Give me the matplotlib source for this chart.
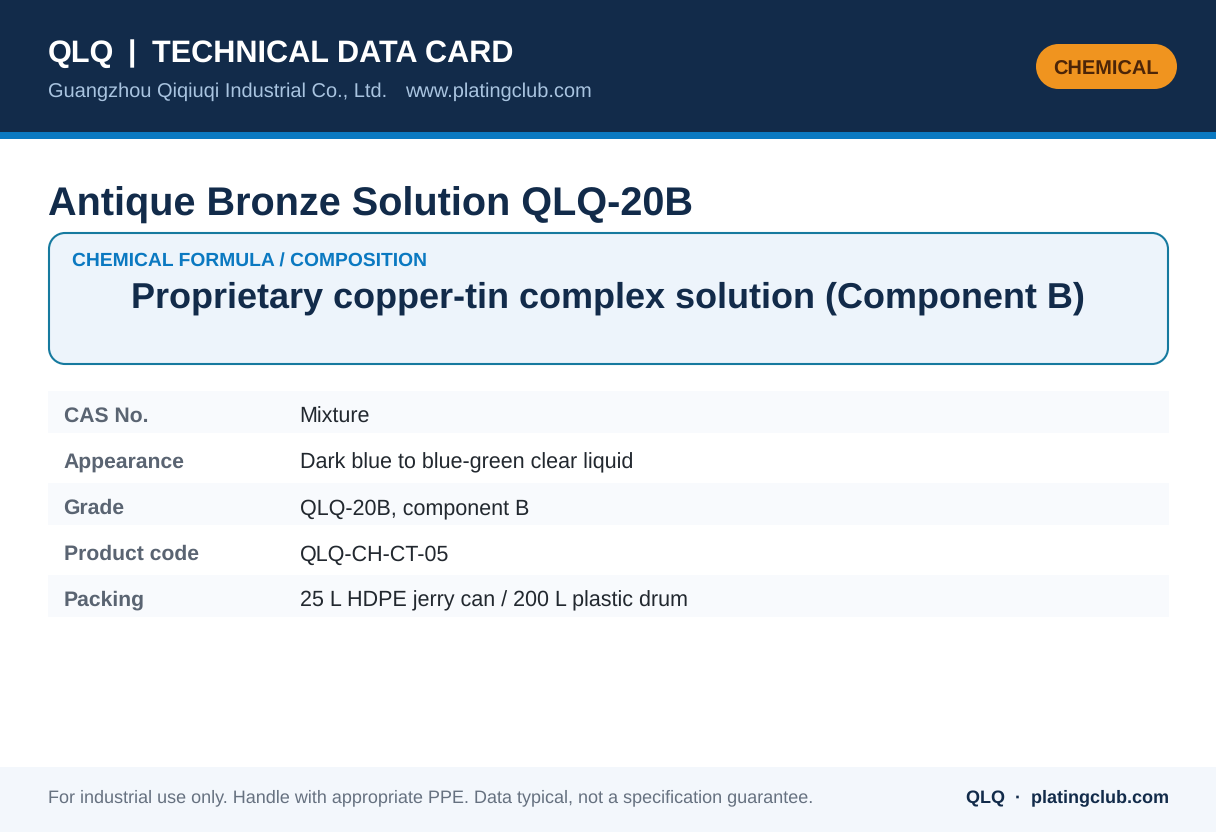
import matplotlib
matplotlib.use("Agg")
import matplotlib.pyplot as plt
from matplotlib.patches import Rectangle, PathPatch
from matplotlib.path import Path

header_brand = "QLQ"
header_sep = "|"
header_title = "TECHNICAL DATA CARD"
header_company = "Guangzhou Qiqiuqi Industrial Co., Ltd."
header_web = "www.platingclub.com"
badge = "CHEMICAL"
product = "Antique Bronze Solution QLQ-20B"
formula_label = "CHEMICAL FORMULA / COMPOSITION"
formula = "Proprietary copper-tin complex solution (Component B)"
row_labels = ["CAS No.", "Appearance", "Grade", "Product code", "Packing"]
row_values = ["Mixture", "Dark blue to blue-green clear liquid", "QLQ-20B, component B",
              "QLQ-CH-CT-05", "25 L HDPE jerry can / 200 L plastic drum"]
footer_left = "For industrial use only. Handle with appropriate PPE. Data typical, not a specification guarantee."
footer_right = "QLQ  ·  platingclub.com"

W, H = 1216, 832
plt.rcParams['font.family'] = ['Liberation Sans', 'DejaVu Sans']
plt.rcParams['text.hinting'] = 'no_hinting'
plt.rcParams['text.hinting_factor'] = 8
fig = plt.figure(figsize=(W/100, H/100), dpi=100, facecolor='white')
ax = fig.add_axes([0, 0, 1, 1])
ax.set_xlim(0, W); ax.set_ylim(H, 0); ax.axis('off')

def px(s): return s*0.72
def T(x, y, s, size, color, weight='normal', ha='left'):
    ax.text(x, y, s, fontsize=px(size), color=color, fontweight=weight, ha=ha, va='center_baseline')

def rrect(x, y, w, h, r, **kw):
    k = 0.5523 * r
    v = [(x+r, y), (x+w-r, y),
         (x+w-r+k, y), (x+w, y+r-k), (x+w, y+r),
         (x+w, y+h-r),
         (x+w, y+h-r+k), (x+w-r+k, y+h), (x+w-r, y+h),
         (x+r, y+h),
         (x+r-k, y+h), (x, y+h-r+k), (x, y+h-r),
         (x, y+r),
         (x, y+r-k), (x+r-k, y), (x+r, y),
         (x+r, y)]
    c = [Path.MOVETO, Path.LINETO] + [Path.CURVE4]*3 + [Path.LINETO] + [Path.CURVE4]*3 + \
        [Path.LINETO] + [Path.CURVE4]*3 + [Path.LINETO] + [Path.CURVE4]*3 + [Path.CLOSEPOLY]
    ax.add_patch(PathPatch(Path(v, c), **kw))

ax.add_patch(Rectangle((0, 0), W, 132, fc='#122b4a', ec='none'))
ax.add_patch(Rectangle((0, 132), W, 7, fc='#0b79c1', ec='none'))
T(48, 50.5, header_brand, 30.7, 'white', 'bold')
T(128, 50.5, header_sep, 30, 'white', 'bold')
T(152, 50.5, header_title, 30.7, 'white', 'bold')
T(48, 90, header_company, 20, '#a9c4e0')
T(405.5, 90, header_web, 20, '#a9c4e0')
rrect(1036, 44, 141, 45, 22.5, fc='#f0941f', ec='none')
T(1106, 67.5, badge, 20, '#4c2508', 'bold', 'center')

T(48, 201, product, 39.6, '#122b4a', 'bold')
rrect(49, 233, 1119, 131, 16, fc='#edf4fb', ec='#167a9f', lw=1.5)
T(72, 259.5, formula_label, 19.3, '#0b79c1', 'bold')
T(608, 294.5, formula, 36, '#122b4a', 'bold', 'center')

for i, (k, v) in enumerate(zip(row_labels, row_values)):
    top = 391 + 46*i
    if i % 2 == 0:
        ax.add_patch(Rectangle((48, top), 1121, 41.5, fc='#f8fafd', ec='none'))
    T(63.6, top + 23.4, k, 21.2, '#5a6472', 'bold')
    T(299.6, top + 23.4, v, 21.55, '#22282f')

ax.add_patch(Rectangle((0, 767), W, 65, fc='#f3f7fc', ec='none'))
T(48, 796, footer_left, 18, '#667180')
T(1169, 796, footer_right, 18, '#122b4a', 'bold', 'right')

fig.savefig('out.png', dpi=100, facecolor='white')
